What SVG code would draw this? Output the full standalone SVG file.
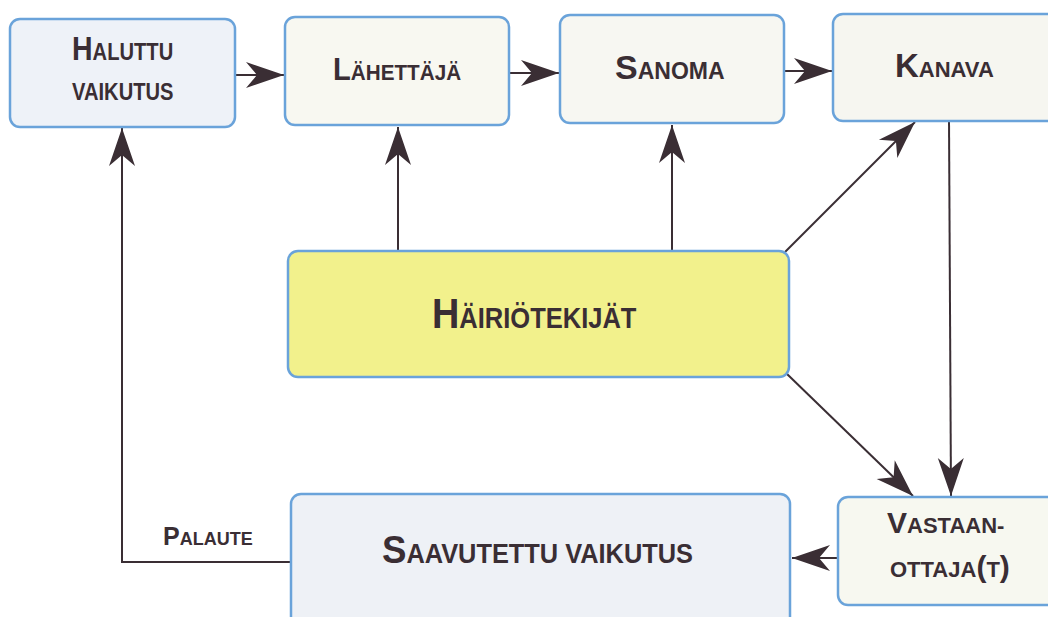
<svg xmlns="http://www.w3.org/2000/svg" width="1048" height="617" viewBox="0 0 1048 617">
<style>
.box{stroke:#6aa3da;stroke-width:2.5}
.t{font-family:"Liberation Sans",Arial,sans-serif;font-weight:bold;fill:#3a2e34}
.c{fill:none;stroke:#3a2e34;stroke-width:2}
</style>
<defs>
<marker id="ah" markerUnits="userSpaceOnUse" markerWidth="44" markerHeight="30" viewBox="-40 -15 42 30" refX="0" refY="0" orient="auto">
<path d="M0,0 L-38,-13 L-27,0 L-38,13 Z" fill="#3a2e34"/>
</marker>
</defs>
<rect width="1048" height="617" fill="#ffffff"/>
<g id="connectors">
<line class="c" x1="235" y1="75" x2="284" y2="75" marker-end="url(#ah)"/>
<line class="c" x1="509" y1="73" x2="559" y2="73" marker-end="url(#ah)"/>
<line class="c" x1="784" y1="71" x2="832" y2="71" marker-end="url(#ah)"/>
<line class="c" x1="398" y1="251" x2="398" y2="127" marker-end="url(#ah)"/>
<line class="c" x1="672" y1="251" x2="672" y2="125" marker-end="url(#ah)"/>
<line class="c" x1="785" y1="252" x2="915" y2="122" marker-end="url(#ah)"/>
<line class="c" x1="787" y1="374" x2="913" y2="496" marker-end="url(#ah)"/>
<line class="c" x1="949" y1="120" x2="951" y2="496" marker-end="url(#ah)"/>
<line class="c" x1="838" y1="558" x2="792" y2="558" marker-end="url(#ah)"/>
<polyline class="c" points="291,562 122,562 122,128" marker-end="url(#ah)"/>
</g>
<g id="halutt">
<rect class="box" x="10" y="19" width="225" height="108" rx="10" fill="#eef2f8"/>
<text class="t" transform="translate(72,60) scale(0.84,1)"><tspan font-size="34">H</tspan><tspan font-size="24">ALUTTU</tspan></text>
<text class="t" transform="translate(72,100) scale(0.84,1)" font-size="24">VAIKUTUS</text>
</g>
<g id="lahettaja">
<rect class="box" x="285" y="17" width="224" height="108" rx="10" fill="#f8f8f1"/>
<text class="t" transform="translate(333,80) scale(0.94,1)"><tspan font-size="31">L</tspan><tspan font-size="22">ÄHETTÄJÄ</tspan></text>
</g>
<g id="sanoma">
<rect class="box" x="560" y="15" width="224" height="108" rx="10" fill="#f7f7f2"/>
<text class="t" x="615" y="79"><tspan font-size="34">S</tspan><tspan font-size="23">ANOMA</tspan></text>
</g>
<g id="kanava">
<rect class="box" x="833" y="14" width="230" height="107" rx="10" fill="#f6f6f0"/>
<text class="t" x="895" y="77"><tspan font-size="33">K</tspan><tspan font-size="22">ANAVA</tspan></text>
</g>
<g id="hairiotekijat">
<rect class="box" x="288" y="251" width="501" height="126" rx="10" fill="#f2f18c"/>
<text class="t" transform="translate(432,328) scale(0.88,1)"><tspan font-size="43">H</tspan><tspan font-size="29">ÄIRIÖTEKIJÄT</tspan></text>
</g>
<g id="saavutettu">
<rect class="box" x="291" y="494" width="499" height="135" rx="10" fill="#eef1f6"/>
<text class="t" transform="translate(382,563) scale(0.94,1)"><tspan font-size="39">S</tspan><tspan font-size="27">AAVUTETTU VAIKUTUS</tspan></text>
</g>
<g id="vastaanottaja">
<rect class="box" x="838" y="497" width="225" height="108" rx="10" fill="#f7f8f0"/>
<text class="t" x="887" y="533"><tspan font-size="30">V</tspan><tspan font-size="22">ASTAAN-</tspan></text>
<text class="t" x="890" y="577"><tspan font-size="22">OTTAJA</tspan><tspan font-size="30">(</tspan><tspan font-size="22">T</tspan><tspan font-size="30">)</tspan></text>
</g>
<g id="palaute">
<text class="t" x="163" y="545"><tspan font-size="25">P</tspan><tspan font-size="18">ALAUTE</tspan></text>
</g>
</svg>
